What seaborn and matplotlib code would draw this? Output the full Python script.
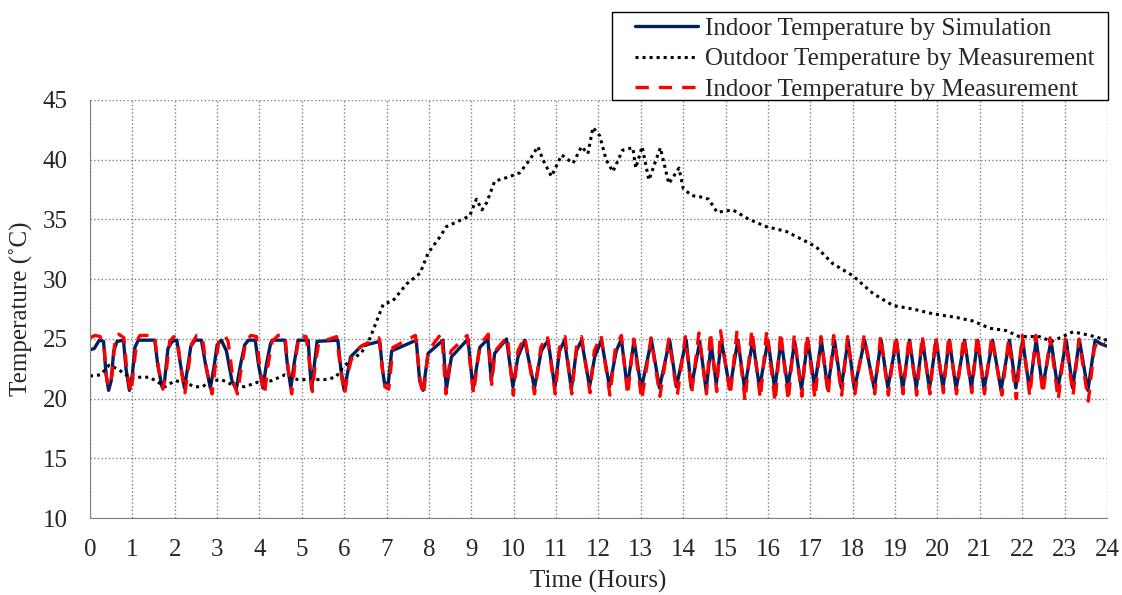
''' Indoor / outdoor temperature over 24 hours '''
import pandas as pd
import matplotlib
matplotlib.use("Agg")
import matplotlib.pyplot as plt
from matplotlib.patches import Rectangle
import seaborn as sns

# Indoor temperature by simulation (hours, deg C)
sim_hours = [0.00, 0.10, 0.22, 0.32, 0.38, 0.44, 0.50, 0.56, 0.64, 0.79,
             0.85, 0.93, 1.00, 1.06, 1.14, 1.53, 1.60, 1.70, 1.76, 1.84,
             1.94, 2.05, 2.13, 2.23, 2.30, 2.38, 2.48, 2.63, 2.72, 2.84,
             2.92, 3.00, 3.10, 3.22, 3.35, 3.45, 3.55, 3.65, 3.74, 3.90,
             3.98, 4.08, 4.16, 4.26, 4.30, 4.60, 4.66, 4.74, 4.82, 4.91,
             5.15, 5.19, 5.23, 5.30, 5.36, 5.85, 5.92, 6.00, 6.07, 6.15,
             6.40, 6.84, 6.90, 6.95, 7.04, 7.12, 7.70, 7.78, 7.86, 7.98,
             8.33, 8.41, 8.53, 8.92, 9.04, 9.20, 9.39, 9.47, 9.55, 9.83,
             9.98, 10.10, 10.26, 10.49, 10.65, 10.81, 10.97, 11.08, 11.20, 11.36,
             11.48, 11.60, 11.79, 11.91, 12.07, 12.26, 12.42, 12.54, 12.68, 12.84,
             13.01, 13.25, 13.44, 13.68, 13.84, 14.07, 14.19, 14.39, 14.54, 14.66,
             14.78, 14.90, 15.10, 15.29, 15.45, 15.64, 15.80, 16.00, 16.16, 16.31,
             16.47, 16.63, 16.79, 16.94, 17.10, 17.26, 17.41, 17.57, 17.73, 17.89,
             18.04, 18.28, 18.51, 18.67, 18.83, 19.03, 19.18, 19.34, 19.50, 19.65,
             19.81, 19.97, 20.13, 20.28, 20.44, 20.64, 20.80, 20.95, 21.10, 21.30,
             21.50, 21.70, 21.85, 22.01, 22.17, 22.33, 22.48, 22.68, 22.84, 23.04,
             23.19, 23.35, 23.55, 23.72, 23.85, 24.00]
sim_temp = [24.1, 24.2, 24.9, 24.8, 22.0, 20.7, 21.5, 24.0, 24.8, 24.9,
            22.5, 20.7, 22.0, 24.3, 24.9, 24.9, 22.8, 21.0, 21.5, 24.2,
            24.8, 24.9, 23.0, 20.9, 22.5, 24.4, 24.9, 24.9, 23.0, 20.9,
            22.5, 24.5, 24.9, 24.0, 21.5, 20.8, 22.8, 24.5, 24.9, 24.9,
            22.8, 20.9, 22.8, 24.6, 24.9, 24.9, 22.8, 20.9, 23.0, 24.9,
            24.9, 22.5, 20.8, 23.0, 24.8, 24.9, 22.5, 20.7, 22.0, 23.5,
            24.4, 24.8, 22.5, 21.3, 21.3, 24.0, 24.9, 21.5, 20.7, 23.8,
            24.9, 20.8, 23.5, 25.0, 20.8, 24.3, 25.0, 21.5, 23.8, 25.0,
            21.0, 23.5, 24.9, 20.9, 24.0, 24.9, 20.9, 24.0, 24.9, 20.8,
            24.0, 24.9, 21.0, 23.5, 24.9, 21.0, 24.0, 25.0, 20.9, 24.9,
            20.8, 24.9, 20.9, 24.9, 21.0, 24.9, 20.9, 24.8, 20.7, 24.6,
            21.2, 24.9, 20.8, 24.9, 20.8, 24.9, 20.9, 24.9, 20.8, 24.9,
            20.9, 24.8, 20.8, 24.9, 21.0, 24.9, 20.8, 24.9, 20.9, 24.9,
            20.8, 24.9, 20.8, 24.9, 20.9, 24.9, 20.8, 24.9, 20.9, 24.9,
            20.8, 24.9, 20.9, 24.9, 20.8, 24.9, 20.9, 24.9, 20.8, 24.9,
            20.7, 24.9, 20.9, 24.9, 20.8, 24.9, 20.9, 24.9, 20.8, 24.9,
            20.9, 24.9, 20.7, 24.9, 24.6, 24.4]

# Outdoor temperature by measurement
out_hours = [0.00, 0.25, 0.45, 0.65, 0.85, 1.00, 1.15, 1.40, 1.60, 1.77,
             2.00, 2.20, 2.48, 2.65, 2.87, 3.10, 3.34, 3.65, 3.97, 4.28,
             4.60, 4.90, 5.20, 5.54, 5.80, 5.94, 6.17, 6.40, 6.60, 6.92,
             7.15, 7.47, 7.79, 7.98, 8.25, 8.41, 8.72, 8.96, 9.12, 9.25,
             9.36, 9.55, 9.83, 10.14, 10.38, 10.57, 10.69, 10.89, 11.13, 11.40,
             11.60, 11.75, 11.87, 12.03, 12.18, 12.34, 12.57, 12.81, 12.88, 13.03,
             13.19, 13.46, 13.66, 13.90, 14.00, 14.20, 14.39, 14.60, 14.80, 15.17,
             15.56, 15.96, 16.43, 16.82, 17.14, 17.53, 18.00, 18.48, 18.95, 19.43,
             19.90, 20.45, 20.84, 21.23, 21.62, 21.93, 22.40, 22.70, 23.20, 23.60,
             24.00]
out_temp = [21.9, 22.0, 22.8, 22.5, 22.0, 21.7, 21.8, 21.8, 21.4, 21.0,
            21.5, 21.4, 21.0, 21.0, 21.5, 21.6, 21.2, 21.0, 21.4, 21.5,
            22.0, 21.6, 21.6, 21.6, 21.8, 22.5, 23.3, 23.8, 25.0, 27.9,
            28.2, 29.6, 30.5, 32.2, 33.5, 34.4, 34.9, 35.3, 36.7, 35.8,
            36.4, 38.2, 38.5, 38.9, 40.0, 41.1, 40.0, 38.6, 40.4, 39.7,
            41.1, 40.5, 42.7, 42.0, 40.0, 39.0, 40.8, 41.0, 39.3, 41.1,
            38.3, 41.0, 38.0, 39.3, 37.6, 37.0, 36.9, 36.7, 35.6, 35.8,
            35.0, 34.4, 34.0, 33.3, 32.7, 31.3, 30.3, 28.8, 27.8, 27.5,
            27.1, 26.8, 26.5, 25.9, 25.7, 25.2, 25.2, 24.8, 25.6, 25.3,
            24.9]

# Indoor temperature by measurement
meas_hours = [0.00, 0.12, 0.24, 0.33, 0.40, 0.46, 0.52, 0.60, 0.68, 0.80,
              0.88, 0.97, 1.03, 1.10, 1.18, 1.52, 1.62, 1.72, 1.79, 1.88,
              1.98, 2.06, 2.15, 2.24, 2.32, 2.40, 2.52, 2.65, 2.75, 2.88,
              2.96, 3.04, 3.18, 3.26, 3.38, 3.48, 3.58, 3.68, 3.80, 3.93,
              4.01, 4.12, 4.20, 4.30, 4.44, 4.60, 4.68, 4.76, 4.84, 4.93,
              5.10, 5.20, 5.25, 5.32, 5.40, 5.82, 5.93, 6.01, 6.08, 6.20,
              6.45, 6.82, 6.90, 6.96, 7.05, 7.15, 7.68, 7.80, 7.87, 7.98,
              8.30, 8.40, 8.52, 8.90, 9.05, 9.20, 9.40, 9.48, 9.56, 9.85,
              9.99, 10.10, 10.26, 10.49, 10.64, 10.79, 10.98, 11.08, 11.21, 11.37,
              11.48, 11.60, 11.80, 11.90, 12.06, 12.27, 12.40, 12.54, 12.69, 12.83,
              13.02, 13.24, 13.45, 13.66, 13.86, 14.05, 14.20, 14.37, 14.55, 14.64,
              14.79, 14.88, 15.11, 15.27, 15.46, 15.62, 15.82, 15.97, 16.17, 16.30,
              16.48, 16.62, 16.80, 16.92, 17.11, 17.25, 17.42, 17.55, 17.74, 17.88,
              18.05, 18.27, 18.52, 18.66, 18.84, 19.02, 19.19, 19.33, 19.51, 19.64,
              19.82, 19.96, 20.14, 20.27, 20.45, 20.62, 20.81, 20.94, 21.11, 21.28,
              21.52, 21.68, 21.86, 22.00, 22.18, 22.32, 22.49, 22.66, 22.85, 23.02,
              23.20, 23.34, 23.56, 23.70, 23.80, 23.95]
meas_temp = [25.1, 25.3, 25.2, 24.5, 21.5, 21.0, 22.0, 25.3, 25.4, 25.1,
             22.0, 20.5, 22.5, 24.8, 25.3, 25.3, 22.5, 20.8, 22.0, 24.8,
             25.2, 25.0, 22.5, 20.5, 22.5, 24.6, 25.3, 25.2, 22.5, 20.4,
             22.8, 24.8, 25.3, 24.8, 21.5, 20.4, 22.8, 24.8, 25.3, 25.2,
             22.5, 20.4, 22.8, 24.8, 25.3, 25.3, 22.5, 20.4, 23.0, 25.3,
             25.2, 22.5, 20.6, 23.0, 24.7, 25.2, 22.0, 20.4, 22.0, 23.8,
             24.5, 25.1, 22.5, 21.0, 20.8, 24.3, 25.3, 21.3, 20.3, 24.0,
             25.5, 20.4, 24.0, 25.3, 20.4, 24.5, 25.4, 21.2, 24.0, 25.2,
             20.3, 24.0, 25.2, 20.4, 24.3, 25.3, 20.4, 24.3, 25.2, 20.4,
             24.3, 25.2, 20.5, 24.0, 25.3, 20.3, 24.3, 25.3, 20.3, 25.0,
             19.9, 25.1, 20.2, 25.0, 20.3, 25.2, 20.5, 25.5, 20.4, 25.6,
             20.6, 25.7, 20.3, 25.7, 19.8, 25.8, 20.0, 25.7, 19.7, 25.6,
             19.8, 25.3, 20.2, 25.4, 20.0, 25.2, 20.3, 25.3, 20.3, 25.2,
             20.4, 25.3, 20.4, 25.3, 20.3, 25.3, 20.4, 25.2, 20.3, 25.3,
             20.4, 25.2, 20.5, 25.3, 20.4, 25.2, 20.5, 25.3, 20.4, 25.2,
             20.3, 25.0, 20.0, 25.3, 20.2, 25.3, 20.4, 25.1, 19.9, 25.0,
             20.3, 25.0, 19.8, 24.2, 24.9, 24.6]

x_ticks = list(range(0, 25))
y_ticks = [10, 15, 20, 25, 30, 35, 40, 45]

sns.set_style("white")
plt.rcParams["font.family"] = ["Liberation Serif", "DejaVu Serif"]

fig, ax = plt.subplots(figsize=(11.22, 5.95), dpi=100)
fig.subplots_adjust(left=0.0802, right=0.9866, top=0.832, bottom=0.129)

sns.lineplot(x=sim_hours, y=sim_temp, ax=ax, color="#002060", lw=2.4,
             estimator=None, sort=False, label="Indoor Temperature by Simulation")
sns.lineplot(x=out_hours, y=out_temp, ax=ax, color="black", lw=2.2,
             linestyle=(0, (1, 1.3)), estimator=None, sort=False,
             label="Outdoor Temperature by Measurement")
sns.lineplot(x=meas_hours, y=meas_temp, ax=ax, color="#FF0000", lw=2.4,
             linestyle=(0, (4, 3)), estimator=None, sort=False,
             label="Indoor Temperature by Measurement")

ax.set_xlim(0, 24)
ax.set_ylim(10, 45)
ax.set_xticks(x_ticks)
ax.set_yticks(y_ticks)
ax.grid(True, linestyle=":", color="#808080", lw=1)
for side in ["top", "right"]:
    ax.spines[side].set_visible(False)
for side in ["left", "bottom"]:
    ax.spines[side].set_color("#808080")
ax.tick_params(axis="x", labelsize=18, length=0, pad=15)
ax.tick_params(axis="y", labelsize=18, length=0, pad=16)
ax.set_xlabel("Time (Hours)", fontsize=18, labelpad=6)
ax.set_ylabel("Temperature (\u02daC)", fontsize=18, labelpad=7)

# legend sits above the plot area, in its own box
leg = ax.legend(loc="upper left", bbox_to_anchor=(635 / 1122, 1 - 17 / 595),
                bbox_transform=fig.transFigure, frameon=False, fontsize=18,
                handlelength=2.5, borderpad=0, labelspacing=0.33,
                handletextpad=0.3, borderaxespad=0)
fig.patches.append(Rectangle((612 / 1122, 1 - 100 / 595), 496 / 1122, 88 / 595,
                             transform=fig.transFigure, fill=False,
                             edgecolor="black", lw=1.0))

fig.savefig("out.png", dpi=100)
